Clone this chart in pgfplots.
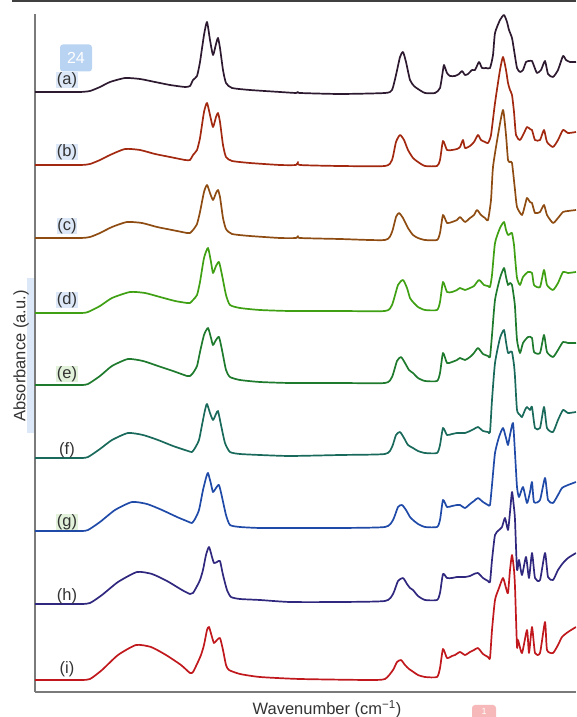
\documentclass[border=0pt]{standalone}
\usepackage{pgfplots}
\pgfplotsset{compat=1.18}
\usepackage{fontspec}
\setmainfont{Liberation Sans}
\definecolor{ca}{HTML}{2E1A30}
\definecolor{cb}{HTML}{A2280F}
\definecolor{cc}{HTML}{8E4C12}
\definecolor{cd}{HTML}{3EA012}
\definecolor{ce}{HTML}{1E7A2C}
\definecolor{cf}{HTML}{1A6A5C}
\definecolor{cg}{HTML}{1F4AA8}
\definecolor{ch}{HTML}{30287E}
\definecolor{ci}{HTML}{C0181C}
\definecolor{axgray}{HTML}{7A7A7A}
\definecolor{hlblue}{HTML}{DCE8F7}
\definecolor{hlgreen}{HTML}{E2F2DA}
\definecolor{badgeblue}{HTML}{B9D3F2}
\definecolor{badgered}{HTML}{F6B8B8}
\begin{document}
\begin{tikzpicture}[x=1pt,y=1pt]
\useasboundingbox (0,0) rectangle (576,717);
\clip (0,0) rectangle (576,717);
\fill[hlblue] (27,284) rectangle (34,439);
\begin{axis}[
  at={(35,25)}, anchor=south west,
  scale only axis, width=541pt, height=678pt,
  xmin=35, xmax=576, ymin=25, ymax=703,
  axis x line*=bottom, axis y line*=left,
  axis line style={draw=axgray, line width=1.3pt},
  ticks=none, clip=false,
  every axis plot/.append style={line width=1.7pt, line join=round, mark=none, smooth, tension=0.35},
]
% (a)
\addplot[ca] table[row sep=\\, y expr=717-\thisrowno{1}] {
35 92\\ 60 92\\ 80 92\\ 90 91\\ 100 87\\ 110 82\\ 125 78\\ 140 79\\ 155 82\\ 170 85\\ 185 87\\ 190 86\\ 193 80\\ 197 76\\ 200 62\\ 204 35\\ 207 22\\ 210 40\\ 213 55\\ 216 44\\ 218 38\\ 220 48\\ 223 70\\ 226 83\\ 232 88\\ 250 90\\ 280 92\\ 296 93\\ 298 92\\ 300 93\\ 340 94\\ 385 93\\ 392 90\\ 396 75\\ 400 57\\ 403 52\\ 406 62\\ 410 80\\ 414 86\\ 418 89\\ 425 93\\ 435 93\\ 440 88\\ 443 70\\ 444 65\\ 447 73\\ 450 76\\ 455 76\\ 459 74\\ 462 71\\ 465 75\\ 468 74\\ 472 70\\ 475 70\\ 479 62\\ 482 68\\ 486 68\\ 490 68\\ 493 55\\ 495 33\\ 500 20\\ 504 15\\ 507 22\\ 509 30\\ 512 38\\ 514 50\\ 517 68\\ 520 72\\ 523 70\\ 526 62\\ 529 61\\ 532 61\\ 534 66\\ 537 73\\ 541 70\\ 545 61\\ 548 74\\ 553 77\\ 558 70\\ 563 56\\ 566 60\\ 570 62\\ 576 62\\
};
% (b)
\addplot[cb] table[row sep=\\, y expr=717-\thisrowno{1}] {
35 165\\ 80 165\\ 90 164\\ 100 160\\ 110 155\\ 125 149\\ 140 150\\ 155 154\\ 170 157\\ 185 160\\ 190 160\\ 193 155\\ 197 150\\ 200 138\\ 204 112\\ 207 103\\ 210 115\\ 213 127\\ 216 117\\ 218 113\\ 220 122\\ 223 145\\ 226 157\\ 232 161\\ 250 163\\ 280 165\\ 296 165\\ 298 162\\ 300 165\\ 340 166\\ 385 166\\ 392 160\\ 396 142\\ 400 135\\ 404 140\\ 408 150\\ 413 158\\ 418 162\\ 425 166\\ 437 166\\ 440 160\\ 443 141\\ 447 150\\ 452 150\\ 457 149\\ 460 147\\ 463 140\\ 465 148\\ 470 146\\ 474 142\\ 478 135\\ 481 140\\ 485 142\\ 488 143\\ 491 135\\ 495 103\\ 500 70\\ 503 57\\ 506 70\\ 508 83\\ 510 90\\ 512 95\\ 514 112\\ 516 135\\ 520 140\\ 524 133\\ 527 127\\ 530 129\\ 532 130\\ 535 140\\ 540 140\\ 544 130\\ 547 142\\ 553 147\\ 558 140\\ 563 130\\ 568 133\\ 576 132\\
};
% (c)
\addplot[cc] table[row sep=\\, y expr=717-\thisrowno{1}] {
35 238\\ 80 238\\ 90 237\\ 100 233\\ 112 227\\ 127 222\\ 142 223\\ 157 227\\ 172 230\\ 187 233\\ 190 233\\ 193 230\\ 197 224\\ 200 212\\ 204 192\\ 207 185\\ 210 193\\ 213 200\\ 216 193\\ 218 190\\ 220 197\\ 223 218\\ 226 229\\ 232 234\\ 250 236\\ 280 238\\ 296 238\\ 298 236\\ 300 238\\ 340 239\\ 385 240\\ 392 232\\ 396 217\\ 399 213\\ 403 218\\ 408 228\\ 413 235\\ 418 238\\ 425 240\\ 437 240\\ 440 233\\ 443 215\\ 447 223\\ 452 222\\ 457 220\\ 460 217\\ 465 222\\ 470 218\\ 474 215\\ 477 210\\ 481 215\\ 485 218\\ 488 220\\ 491 200\\ 493 167\\ 498 135\\ 503 110\\ 506 135\\ 508 160\\ 510 162\\ 512 163\\ 515 190\\ 517 207\\ 522 215\\ 525 205\\ 527 198\\ 530 202\\ 532 203\\ 535 213\\ 540 212\\ 544 205\\ 547 215\\ 553 223\\ 558 218\\ 563 212\\ 568 211\\ 576 210\\
};
% (d)
\addplot[cd] table[row sep=\\, y expr=717-\thisrowno{1}] {
35 313\\ 80 313\\ 88 312\\ 100 306\\ 112 298\\ 130 292\\ 145 293\\ 160 297\\ 175 301\\ 187 303\\ 190 303\\ 193 300\\ 197 295\\ 200 282\\ 204 258\\ 208 248\\ 211 262\\ 213 273\\ 216 266\\ 219 262\\ 222 275\\ 226 295\\ 230 305\\ 240 308\\ 260 310\\ 290 311\\ 340 311\\ 385 311\\ 392 305\\ 398 285\\ 403 280\\ 407 288\\ 410 298\\ 413 302\\ 418 307\\ 425 310\\ 437 310\\ 440 302\\ 443 282\\ 447 292\\ 452 292\\ 457 290\\ 460 288\\ 465 290\\ 470 288\\ 474 286\\ 479 280\\ 484 285\\ 488 286\\ 490 287\\ 492 275\\ 495 243\\ 500 228\\ 504 222\\ 506 230\\ 508 235\\ 510 234\\ 512 233\\ 514 245\\ 515 257\\ 517 278\\ 520 285\\ 523 277\\ 528 272\\ 532 273\\ 534 285\\ 540 287\\ 544 270\\ 547 285\\ 553 290\\ 558 283\\ 563 272\\ 568 273\\ 576 272\\
};
% (e)
\addplot[ce] table[row sep=\\, y expr=717-\thisrowno{1}] {
35 385\\ 80 385\\ 88 384\\ 100 376\\ 112 366\\ 128 359\\ 143 361\\ 158 366\\ 173 371\\ 187 376\\ 190 376\\ 193 373\\ 197 366\\ 200 352\\ 204 335\\ 208 328\\ 211 338\\ 213 345\\ 216 340\\ 219 337\\ 222 350\\ 226 370\\ 230 377\\ 240 380\\ 260 382\\ 290 383\\ 340 383\\ 385 383\\ 392 377\\ 397 361\\ 401 357\\ 405 363\\ 409 370\\ 413 373\\ 418 378\\ 425 381\\ 437 381\\ 440 373\\ 443 353\\ 447 363\\ 452 362\\ 457 360\\ 460 358\\ 465 360\\ 470 357\\ 474 353\\ 478 348\\ 483 354\\ 488 356\\ 490 357\\ 492 335\\ 495 300\\ 500 278\\ 504 268\\ 506 277\\ 508 285\\ 510 283\\ 512 285\\ 514 298\\ 515 307\\ 517 340\\ 520 353\\ 523 343\\ 528 337\\ 532 338\\ 534 352\\ 540 353\\ 544 335\\ 547 352\\ 553 357\\ 558 350\\ 563 342\\ 568 343\\ 576 343\\
};
% (f)
\addplot[cf] table[row sep=\\, y expr=717-\thisrowno{1}] {
35 458\\ 80 458\\ 88 457\\ 100 449\\ 112 440\\ 128 433\\ 143 435\\ 158 440\\ 173 446\\ 188 451\\ 192 452\\ 195 448\\ 199 440\\ 202 425\\ 205 410\\ 207 404\\ 210 413\\ 213 420\\ 216 414\\ 218 411\\ 221 425\\ 225 443\\ 230 452\\ 240 454\\ 260 455\\ 290 456\\ 340 455\\ 385 454\\ 392 447\\ 396 435\\ 400 432\\ 404 438\\ 408 445\\ 413 448\\ 418 451\\ 425 453\\ 437 453\\ 440 445\\ 443 428\\ 447 435\\ 452 434\\ 457 433\\ 460 433\\ 465 433\\ 470 431\\ 474 429\\ 478 427\\ 483 431\\ 488 432\\ 490 432\\ 492 400\\ 495 363\\ 500 338\\ 504 330\\ 506 342\\ 508 353\\ 510 352\\ 512 352\\ 514 365\\ 515 377\\ 517 410\\ 520 415\\ 522 417\\ 525 410\\ 527 407\\ 530 410\\ 532 407\\ 535 428\\ 540 428\\ 544 407\\ 547 428\\ 553 432\\ 558 420\\ 563 410\\ 568 413\\ 576 412\\
};
% (g)
\addplot[cg] table[row sep=\\, y expr=717-\thisrowno{1}] {
35 531\\ 80 531\\ 88 530\\ 100 522\\ 115 510\\ 132 502\\ 147 504\\ 162 510\\ 177 517\\ 189 522\\ 192 523\\ 195 519\\ 199 510\\ 203 490\\ 206 478\\ 208 473\\ 211 484\\ 213 492\\ 216 488\\ 219 485\\ 222 497\\ 226 515\\ 230 525\\ 240 527\\ 260 528\\ 290 528\\ 340 528\\ 385 527\\ 393 520\\ 398 507\\ 402 505\\ 406 510\\ 410 517\\ 413 520\\ 418 524\\ 425 527\\ 437 527\\ 440 520\\ 443 500\\ 447 507\\ 452 506\\ 457 505\\ 460 505\\ 465 508\\ 470 504\\ 474 501\\ 478 498\\ 483 502\\ 488 505\\ 490 505\\ 492 485\\ 495 453\\ 499 437\\ 503 428\\ 506 438\\ 508 445\\ 510 435\\ 513 423\\ 515 453\\ 517 487\\ 519 497\\ 523 487\\ 527 503\\ 530 492\\ 532 482\\ 534 502\\ 540 500\\ 545 478\\ 548 500\\ 553 503\\ 558 495\\ 562 488\\ 568 485\\ 576 482\\
};
% (h)
\addplot[ch] table[row sep=\\, y expr=717-\thisrowno{1}] {
35 604\\ 80 604\\ 90 603\\ 102 595\\ 118 582\\ 137 572\\ 152 574\\ 167 581\\ 182 590\\ 190 594\\ 193 593\\ 196 588\\ 200 580\\ 203 570\\ 206 555\\ 209 547\\ 212 557\\ 214 563\\ 217 562\\ 220 561\\ 223 575\\ 227 590\\ 231 597\\ 240 599\\ 260 600\\ 290 602\\ 340 602\\ 385 601\\ 393 594\\ 398 581\\ 403 578\\ 407 584\\ 410 588\\ 413 590\\ 418 596\\ 425 600\\ 437 600\\ 440 593\\ 443 574\\ 447 578\\ 452 578\\ 457 577\\ 460 577\\ 465 577\\ 470 576\\ 474 574\\ 478 573\\ 483 578\\ 488 581\\ 490 582\\ 492 560\\ 495 535\\ 499 530\\ 502 527\\ 505 518\\ 508 530\\ 510 512\\ 512 492\\ 514 508\\ 515 520\\ 517 570\\ 519 560\\ 522 575\\ 526 557\\ 529 578\\ 532 553\\ 535 578\\ 540 580\\ 545 553\\ 548 577\\ 553 580\\ 558 570\\ 563 563\\ 568 558\\ 576 553\\
};
% (i)
\addplot[ci] table[row sep=\\, y expr=717-\thisrowno{1}] {
35 680\\ 80 680\\ 90 679\\ 102 670\\ 118 655\\ 136 645\\ 151 647\\ 166 655\\ 181 665\\ 190 673\\ 193 672\\ 197 664\\ 201 655\\ 204 645\\ 207 630\\ 209 627\\ 212 637\\ 214 643\\ 217 640\\ 220 638\\ 223 650\\ 226 665\\ 229 670\\ 240 674\\ 260 677\\ 300 679\\ 369 680\\ 385 679\\ 393 670\\ 397 662\\ 401 660\\ 405 665\\ 409 669\\ 412 671\\ 418 675\\ 425 677\\ 437 677\\ 440 668\\ 443 649\\ 447 658\\ 452 656\\ 455 655\\ 460 652\\ 465 655\\ 470 652\\ 474 650\\ 478 648\\ 483 654\\ 488 657\\ 490 658\\ 492 630\\ 495 600\\ 499 588\\ 503 578\\ 506 588\\ 508 593\\ 510 570\\ 512 555\\ 514 570\\ 515 587\\ 517 647\\ 518 640\\ 522 653\\ 527 630\\ 529 653\\ 532 627\\ 535 653\\ 540 653\\ 545 622\\ 547 650\\ 553 653\\ 558 645\\ 562 637\\ 568 632\\ 576 627\\
};
\end{axis}
\draw[black!75, line width=1.6pt] (12,716.2) -- (576,716.2);
\begin{scope}[every node/.style={font=\fontsize{16.5}{19}\selectfont, inner sep=0.6pt, text=black!80}]
\node[fill=hlblue] at (67,637) {(a)};
\node[fill=hlblue] at (67,565) {(b)};
\node[fill=hlblue] at (67,491) {(c)};
\node[fill=hlblue] at (67,417) {(d)};
\node[fill=hlgreen] at (67,343) {(e)};
\node at (67,267) {(f)};
\node[fill=hlgreen] at (67,195) {(g)};
\node at (67,121) {(h)};
\node at (67,48) {(i)};
\node[rotate=90] at (21,361) {Absorbance (a.u.)};
\node at (327,8) {Wavenumber (cm\textsuperscript{−1})};
\end{scope}
\node[fill=badgeblue, rounded corners=3pt, minimum width=32pt, minimum height=27pt, text=white, font=\fontsize{16}{18}\selectfont] at (76,659) {24};
\fill[badgered, rounded corners=3pt] (472,-6) rectangle (496,12);
\node[text=white, font=\fontsize{9}{10}\selectfont, inner sep=0pt] at (484,5.5) {1};
\end{tikzpicture}
\end{document}
